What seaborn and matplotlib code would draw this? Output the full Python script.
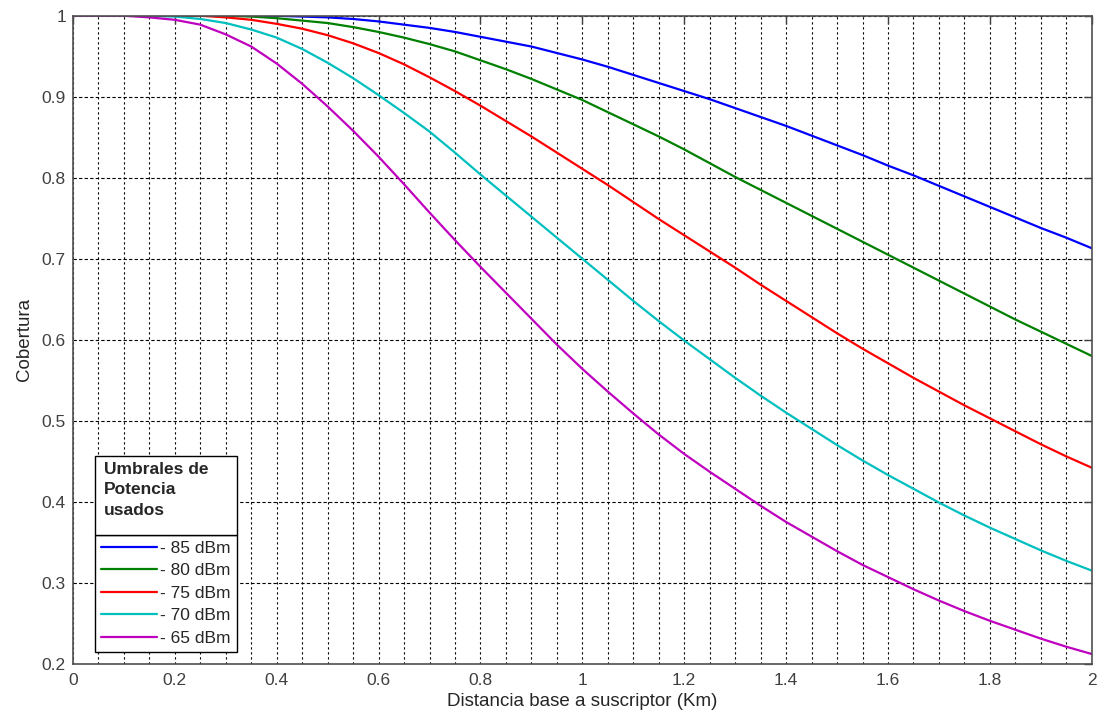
import numpy as np
import pandas as pd
import seaborn as sns
import matplotlib.pyplot as plt
from matplotlib.patches import Rectangle
from matplotlib.ticker import MultipleLocator

# distance (Km) sampled every 0.05
distancia = [round(0.05 * i, 2) for i in range(41)]

cob_85 = [1.0, 1.0, 1.0, 1.0, 1.0, 1.0, 1.0, 1.0, 1.0, 0.999, 0.998, 0.996, 0.993, 0.989,
          0.985, 0.980, 0.974, 0.968, 0.962, 0.954, 0.946, 0.937, 0.927, 0.917, 0.907,
          0.897, 0.886, 0.875, 0.864, 0.852, 0.840, 0.828, 0.815, 0.803, 0.790, 0.777,
          0.764, 0.751, 0.738, 0.726, 0.713]
cob_80 = [1.0, 1.0, 1.0, 1.0, 1.0, 1.0, 1.0, 0.999, 0.997, 0.994, 0.991, 0.986, 0.980,
          0.973, 0.965, 0.956, 0.945, 0.934, 0.922, 0.909, 0.896, 0.881, 0.866, 0.851,
          0.835, 0.818, 0.801, 0.785, 0.769, 0.753, 0.737, 0.721, 0.705, 0.689, 0.673,
          0.657, 0.641, 0.625, 0.610, 0.595, 0.580]
cob_75 = [1.0, 1.0, 1.0, 1.0, 1.0, 1.0, 0.998, 0.995, 0.990, 0.984, 0.976, 0.966, 0.954,
          0.940, 0.924, 0.907, 0.889, 0.870, 0.851, 0.831, 0.811, 0.791, 0.770, 0.749,
          0.729, 0.709, 0.689, 0.668, 0.648, 0.628, 0.608, 0.589, 0.571, 0.553, 0.536,
          0.519, 0.503, 0.487, 0.471, 0.456, 0.442]
cob_70 = [1.0, 1.0, 1.0, 1.0, 0.999, 0.996, 0.991, 0.983, 0.973, 0.959, 0.942, 0.923, 0.902,
          0.880, 0.857, 0.831, 0.804, 0.778, 0.752, 0.726, 0.700, 0.674, 0.648, 0.623,
          0.599, 0.576, 0.553, 0.531, 0.510, 0.490, 0.470, 0.451, 0.433, 0.416, 0.399,
          0.383, 0.368, 0.354, 0.340, 0.327, 0.315]
cob_65 = [1.0, 1.0, 1.0, 0.998, 0.995, 0.989, 0.977, 0.962, 0.941, 0.916, 0.888, 0.858,
          0.826, 0.792, 0.757, 0.723, 0.690, 0.658, 0.626, 0.594, 0.564, 0.536, 0.509,
          0.483, 0.459, 0.437, 0.416, 0.395, 0.375, 0.357, 0.339, 0.322, 0.307, 0.292,
          0.278, 0.265, 0.253, 0.242, 0.231, 0.221, 0.212]

umbrales = ['- 85 dBm', '- 80 dBm', '- 75 dBm', '- 70 dBm', '- 65 dBm']
colores = ['#0000ff', '#008000', '#ff0000', '#00bfbf', '#bf00bf']

x_ticks = [0, 0.2, 0.4, 0.6, 0.8, 1.0, 1.2, 1.4, 1.6, 1.8, 2.0]
x_tick_labels = ['0', '0.2', '0.4', '0.6', '0.8', '1', '1.2', '1.4', '1.6', '1.8', '2']
y_ticks = [0.2, 0.3, 0.4, 0.5, 0.6, 0.7, 0.8, 0.9, 1.0]
y_tick_labels = ['0.2', '0.3', '0.4', '0.5', '0.6', '0.7', '0.8', '0.9', '1']

df = pd.DataFrame({'dist': distancia, umbrales[0]: cob_85, umbrales[1]: cob_80,
                   umbrales[2]: cob_75, umbrales[3]: cob_70, umbrales[4]: cob_65})
df = df.melt(id_vars='dist', var_name='umbral', value_name='cob')

sns.set_style('white')
plt.rcParams['font.family'] = ['Liberation Sans', 'DejaVu Sans']

fig, ax = plt.subplots(figsize=(11.05, 7.16), dpi=100)
fig.subplots_adjust(left=0.066, right=0.988, top=0.978, bottom=0.073)

sns.lineplot(data=df, x='dist', y='cob', hue='umbral', hue_order=umbrales,
             palette=colores, linewidth=1.6, ax=ax, legend=False)

ax.set_xlim(0, 2)
ax.set_ylim(0.2, 1)
ax.set_xticks(x_ticks)
ax.set_xticklabels(x_tick_labels)
ax.set_yticks(y_ticks)
ax.set_yticklabels(y_tick_labels)
ax.xaxis.set_minor_locator(MultipleLocator(0.05))

ax.grid(which='both', axis='x', color='black', linestyle=(0, (2, 2.5)), linewidth=0.8)
ax.grid(which='major', axis='y', color='black', linestyle=(0, (3, 2)), linewidth=0.8)
ax.set_axisbelow(True)

ax.tick_params(which='major', direction='in', top=True, right=True, length=6,
               width=1, color='#404040', labelcolor='#404040', labelsize=12.5)
ax.tick_params(axis='x', which='major', pad=7)
ax.tick_params(axis='y', which='major', pad=5)
ax.tick_params(which='minor', length=0)
for sp in ax.spines.values():
    sp.set_color('#505050')
    sp.set_linewidth(1.2)

ax.set_xlabel('Distancia base a suscriptor (Km)', fontsize=13.5, labelpad=3)
ax.set_ylabel('Cobertura', fontsize=13.5, labelpad=6)

leg = ax.legend(ax.lines[:5], umbrales, loc='lower left', bbox_to_anchor=(0.0216, 0.0185),
                frameon=True, fancybox=False, edgecolor='black', framealpha=1,
                handlelength=3.2, fontsize=12.5, borderaxespad=0, labelspacing=0.42,
                handletextpad=0.2, borderpad=0.35)
leg.get_frame().set_linewidth(1.0)

# title box above the legend
fig.canvas.draw()
bb = leg.get_window_extent().transformed(ax.transAxes.inverted())
box_h = 0.122
ax.add_patch(Rectangle((bb.x0, bb.y1), bb.x1 - bb.x0, box_h, transform=ax.transAxes,
                       facecolor='white', edgecolor='black', linewidth=1.0, zorder=6,
                       clip_on=False))
ax.text(bb.x0 + 0.0085, bb.y1 + box_h - 0.010, 'Umbrales de\nPotencia\nusados',
        transform=ax.transAxes, ha='left', va='top', fontsize=12.5, fontweight='bold',
        linespacing=1.45, zorder=7)

fig.savefig('out.png', dpi=100)
